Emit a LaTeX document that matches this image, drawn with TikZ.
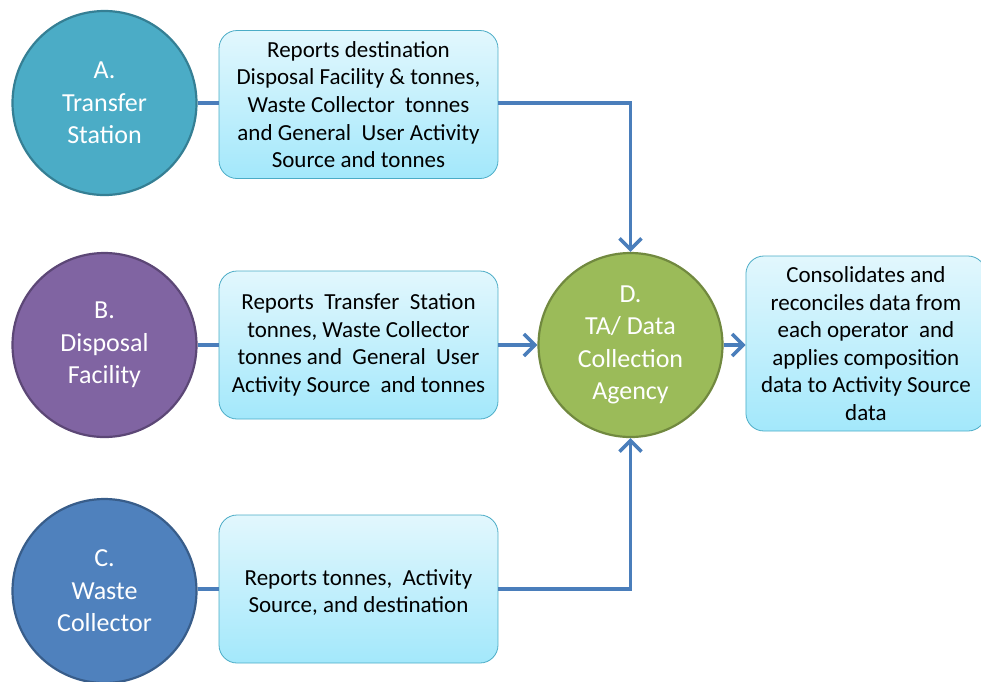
\documentclass[tikz,border=0pt]{standalone}
\usepackage{fontspec}
\setmainfont{Carlito}
\usetikzlibrary{arrows.meta}
\definecolor{cA}{HTML}{4BACC6}\definecolor{cAd}{HTML}{357F94}
\definecolor{cB}{HTML}{8064A2}\definecolor{cBd}{HTML}{5C4776}
\definecolor{cC}{HTML}{4F81BD}\definecolor{cCd}{HTML}{385D8A}
\definecolor{cD}{HTML}{9BBB59}\definecolor{cDd}{HTML}{71893F}
\definecolor{bxtop}{HTML}{E2F7FD}\definecolor{bxbot}{HTML}{A3E8FB}
\definecolor{bxline}{HTML}{4BACC6}
\definecolor{conn}{HTML}{4A7EBB}
\tikzset{
  circ/.style={circle, minimum size=184pt, inner sep=0pt, line width=2.2pt, text=white, align=center,
    font=\fontsize{26}{32.5}\selectfont},
  infobox/.style={rounded corners=18pt, draw=bxline, line width=0.8pt, top color=bxtop, bottom color=bxbot,
    align=center, font=\fontsize{23}{27.6}\selectfont, inner sep=0pt},
  boxtext/.style={align=center, font=\fontsize{23}{27.6}\selectfont, inner sep=0pt},
  conline/.style={draw=conn, line width=3.5pt},
  conarrow/.style={conline, -{Straight Barb[length=11pt,width=22pt,line width=3.5pt]}},
}
\begin{document}
\begin{tikzpicture}[x=1pt,y=-1pt]
\useasboundingbox (0,0) rectangle (981,681);
% circles
\node[circ, fill=cA, draw=cAd] (A) at (104.5,103) {A.\\Transfer\\Station};
\node[circ, fill=cB, draw=cBd] (B) at (104.5,345) {B.\\Disposal\\Facility};
\node[circ, fill=cC, draw=cCd] (C) at (104.5,591) {C.\\Waste\\Collector};
\node[circ, fill=cD, draw=cDd] (D) at (630.5,345) {D.\\TA/ Data\\Collection\\Agency};
% boxes
\node[infobox, minimum width=279pt, minimum height=148pt] (bA) at (358.5,104.5)
  {Reports destination\\Disposal Facility \& tonnes,\\Waste Collector\ \ tonnes\\and General\ \ User Activity\\Source and tonnes};
\node[infobox, minimum width=279pt, minimum height=148pt] (bB) at (358.5,345)
  {Reports\ \ Transfer\ \ Station\\tonnes, Waste Collector\\tonnes and\ \ General\ \ User\\Activity Source\ \ and tonnes};
\node[infobox, minimum width=279pt, minimum height=148pt] (bC) at (358.5,589) {};
\node[boxtext, yshift=-3.5pt] (bCt) at (bC.center) {Reports tonnes,\ \ Activity\\Source, and destination};
\node[infobox, minimum width=240pt, minimum height=175pt, anchor=west] (bE) at (745.5,343.5)
  {Consolidates and\\reconciles data from\\each operator\ \ and\\applies composition\\data to Activity Source\\data};
% connectors
\draw[conline] (A.east) -- (bA.west |- A.east);
\draw[conline] (B.east) -- (bB.west |- B.east);
\draw[conline] (C.east |- bC.west) -- (bC.west);
\draw[conarrow] (bA.east |- A.east) -| (D.north);
\draw[conarrow] (bB.east) -- (D.west);
\draw[conarrow] (bC.east) -| (D.south);
\draw[conarrow] (D.east) -- (bE.west |- D.east);
\end{tikzpicture}
\end{document}
